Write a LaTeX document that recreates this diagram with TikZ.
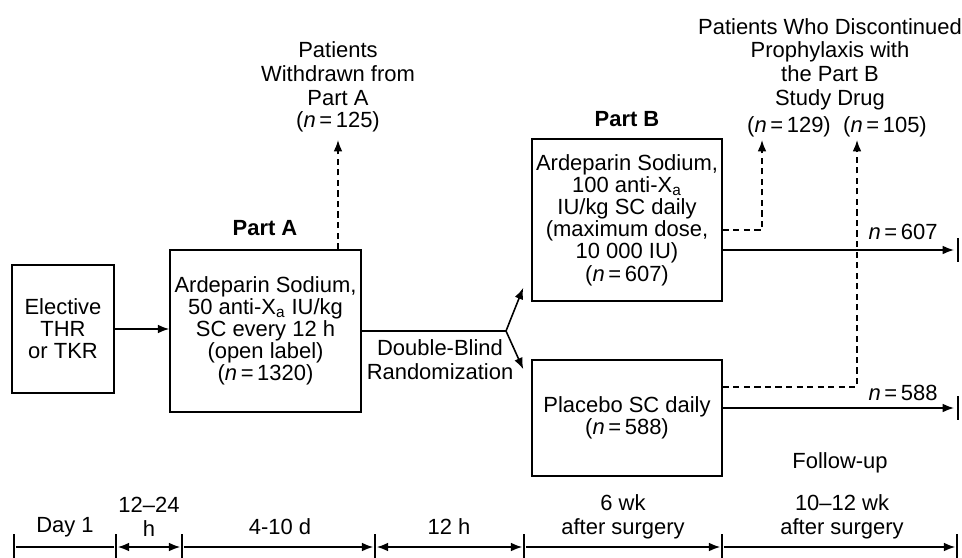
\documentclass[tikz,border=0pt]{standalone}
\usepackage{fontspec}
\setmainfont{Liberation Sans}
\usetikzlibrary{arrows.meta,calc}

\begin{document}
\begin{tikzpicture}[x=0.02cm,y=-0.02cm,
        every node/.style={font=\fontsize{12.5}{12.6}\selectfont, align=center, inner sep=0pt},
        box/.style={draw, line width=0.9pt},
        lbl/.style={font=\fontsize{12.5}{13.5}\selectfont},
        head/.style={font=\fontsize{12.5}{13}\selectfont\bfseries},
        flow/.style={line width=0.9pt, -{Latex[length=6.5pt,width=5pt]}},
        drop/.style={flow, dash pattern=on 3.5pt off 2.5pt},
        span/.style={line width=0.9pt, shorten <=1pt, shorten >=1pt}]
    \useasboundingbox (0,0) rectangle (962,557);

    % Cajas
    \node[box, minimum width=2.04cm, minimum height=2.56cm] (thr) at (63,329) {Elective\\THR\\or TKR};
    \node[box, minimum width=3.82cm, minimum height=3.24cm] (partA) at (265.5,331)
        {Ardeparin Sodium,\\50 anti-X\textsubscript{a} IU/kg\\SC every 12 h\\(open label)\\(\textit{n}\,=\,1320)};
    \node[box, minimum width=3.8cm, minimum height=3.24cm] (partB) at (627,220)
        {Ardeparin Sodium,\\100 anti-X\textsubscript{a}\\IU/kg SC daily\\(maximum dose,\\10 000 IU)\\(\textit{n}\,=\,607)};
    \node[box, minimum width=3.8cm, minimum height=2.32cm] (placebo) at (627,418)
        {Placebo SC daily\\(\textit{n}\,=\,588)};
    \node[head] (headA) at (265,228) {Part A};
    \node[head] (headB) at (627,119) {Part B};

    % Etiquetas
    \node[lbl] (wdA) at (338,73.5) {Patients\\Withdrawn from\\Part A};
    \node (n125) at (338,122) {(\textit{n}\,=\,125)};
    \node[lbl] (disc) at (830,64) {Patients Who Discontinued\\Prophylaxis with\\the Part B\\Study Drug};
    \node (n129) at (789,127) {(\textit{n}\,=\,129)};
    \node (n105) at (885,127) {(\textit{n}\,=\,105)};
    \node[lbl] (rand) at (440,360) {Double-Blind\\Randomization};
    \node (n607) at (903,232) {\textit{n}\,=\,607};
    \node (n588) at (903,393) {\textit{n}\,=\,588};
    \node (follow) at (840,463) {Follow-up};

    % Flechas
    \coordinate (fork) at (506,331);
    \coordinate (up129) at (762,140);
    \coordinate (up105) at (857,140);
    \coordinate (end607) at (954,250);
    \coordinate (end588) at (954,408);
    \draw[flow] (thr.east) -- (thr.east -| partA.west);
    \draw[drop] (partA.north -| n125) -- (n125.south |- up129);
    \draw[line width=0.9pt] (partA.east) -- (fork);
    \draw[flow] (fork) -- ($(partB.south west)+(-8,-14)$);
    \draw[flow] (fork) -- ($(placebo.north west)+(-8,10)$);
    \draw[drop] ($(partB.east)+(0,10)$) -| (up129);
    \draw[drop] ($(placebo.east)+(0,-31)$) -| (up105);
    \draw[flow] ($(partB.east)+(0,30)$) -- (end607);
    \draw[flow] ($(placebo.east)+(0,-10)$) -- (end588);
    \draw[line width=0.9pt] ($(end607)+(4,-12)$) -- ++(0,24);
    \draw[line width=0.9pt] ($(end588)+(4,-12)$) -- ++(0,24);

    % Linea de tiempo
    \foreach \x [count=\i] in {14,116,182,375,524,722,957} {
        \coordinate (t\i) at (\x,547);
        \draw[line width=0.9pt] (\x,534) -- (\x,558);
    }
    \draw[span] (t1) -- (t2);
    \draw[span, {Latex[length=6.5pt,width=5pt]}-{Latex[length=6.5pt,width=5pt]}] (t2) -- (t3);
    \draw[span, -{Latex[length=6.5pt,width=5pt]}] (t3) -- (t4);
    \draw[span, {Latex[length=6.5pt,width=5pt]}-{Latex[length=6.5pt,width=5pt]}] (t4) -- (t5);
    \draw[span, -{Latex[length=6.5pt,width=5pt]}] (t5) -- (t6);
    \draw[span, -{Latex[length=6.5pt,width=5pt]}] (t6) -- (t7);
    \foreach \x/\val in {65/Day 1, 280/4-10 d, 449/12 h} {
        \node[lbl] (span\x) at (\x,527) {\val};
    }
    \node[lbl] (span149) at (149,517) {12–24\\h};
    \node[lbl] (span623) at (623,517) {6 wk\\after surgery};
    \node[lbl] (span842) at (842,517) {10–12 wk\\after surgery};
\end{tikzpicture}
\end{document}
